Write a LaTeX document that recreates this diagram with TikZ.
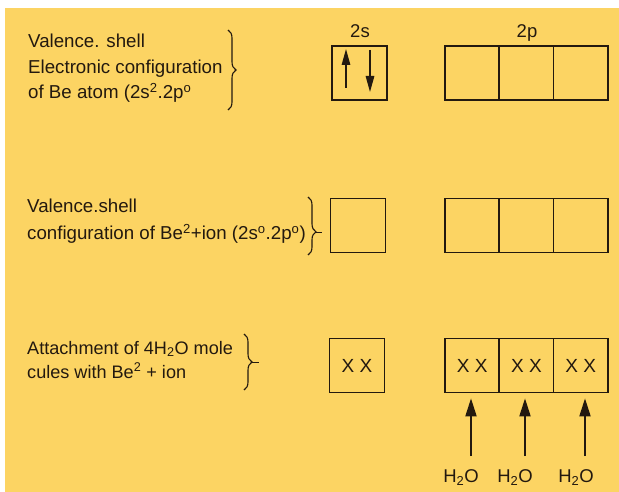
\documentclass[tikz,border=0pt]{standalone}
\usepackage{fontspec}
\setmainfont{Liberation Sans}
\usetikzlibrary{arrows.meta,decorations.pathreplacing}
\definecolor{bg}{RGB}{252,212,99}
\definecolor{ink}{RGB}{35,25,15}
\begin{document}
\begin{tikzpicture}[x=1pt,y=-1pt,
  txt/.style={inner sep=0pt,anchor=base west,text=ink,font=\fontsize{18.7}{22}\selectfont},
  txtb/.style={txt,font=\fontsize{18.1}{22}\selectfont},
  lbl/.style={inner sep=0pt,anchor=base,text=ink,font=\fontsize{18.5}{22}\selectfont},
  orb/.style={draw=ink,line width=1.7pt,minimum width=55pt,minimum height=54pt,inner sep=0pt,text=ink,font=\fontsize{19}{22}\selectfont},
  porb/.style={orb,minimum width=54.3pt},
  brc/.style={draw=ink,line width=1.1pt,decorate,decoration={brace,amplitude=8pt}},
  spin/.style={draw=ink,line width=1.4pt,-{Triangle[length=16pt,width=8.5pt]}},
  lig/.style={draw=ink,line width=1.8pt,-{Triangle[length=18pt,width=11pt]},shorten >=5pt}]
\useasboundingbox (0,0) rectangle (619,492);
\fill[white] (0,0) rectangle (619,492);
\fill[bg] (5,8) rectangle (619,492);
% Row 1
\node[txt] (a1) at (28,48) {Valence. shell};
\node[txt] (a2) at (28,74) {Electronic configuration};
\node[txt] (a3) at (28,99) {of Be atom (2s\textsuperscript{2}.2p\textsuperscript{o}};
\draw[brc] (228,30) -- (228,110);
\node[lbl] (l2s) at (360,38) {2s};
\node[lbl] (l2p) at (527,38) {2p};
\node[orb] (s1) at (359.5,73) {};
\node[porb] (p11) at (472.15,73) {};
\node[porb] (p12) at (526.45,73) {};
\node[porb] (p13) at (580.75,73) {};
\coordinate (u0) at (346,88); \coordinate (u1) at (346,49);
\coordinate (d0) at (370,50); \coordinate (d1) at (370,92);
\draw[spin] (u0) -- (u1);
\draw[spin] (d0) -- (d1);
% Row 2
\node[txt] (b1) at (27,213) {Valence.shell};
\node[txt] (b2) at (27,240) {configuration of Be\textsuperscript{2}+ion (2s\textsuperscript{o}.2p\textsuperscript{o})};
\draw[brc,decoration={brace,amplitude=8pt,aspect=0.6}] (308,197) -- (308,255);
\coordinate (bt2) at (316,232); \coordinate (be2) at (322,232);
\draw[ink,line width=1pt] (bt2) -- (be2);
\node[orb] (s2) at (358,225.5) {};
\node[porb] (p21) at (472.15,225.5) {};
\node[porb] (p22) at (526.45,225.5) {};
\node[porb] (p23) at (580.75,225.5) {};
% Row 3
\node[txtb] (c1) at (27,354) {Attachment of 4H\textsubscript{2}O mole};
\node[txtb] (c2) at (27,378) {cules with Be\textsuperscript{2} + ion};
\draw[brc] (244,334) -- (244,390);
\coordinate (bt3) at (252,362); \coordinate (be3) at (259,362);
\draw[ink,line width=1pt] (bt3) -- (be3);
\node[orb] (s3) at (357,365.5) {X X};
\node[porb] (p31) at (472.15,365.5) {X X};
\node[porb] (p32) at (526.45,365.5) {X X};
\node[porb] (p33) at (580.75,365.5) {X X};
\node[lbl] (w1) at (461,482) {H\textsubscript{2}O};
\node[lbl] (w2) at (515,482) {H\textsubscript{2}O};
\node[lbl] (w3) at (576,482) {H\textsubscript{2}O};
\coordinate (t1) at (471,456);
\coordinate (t2) at (525,456);
\coordinate (t3) at (585,456);
\draw[lig] (t1) -- (t1 |- p31.south);
\draw[lig] (t2) -- (t2 |- p32.south);
\draw[lig] (t3) -- (t3 |- p33.south);
\end{tikzpicture}
\end{document}
